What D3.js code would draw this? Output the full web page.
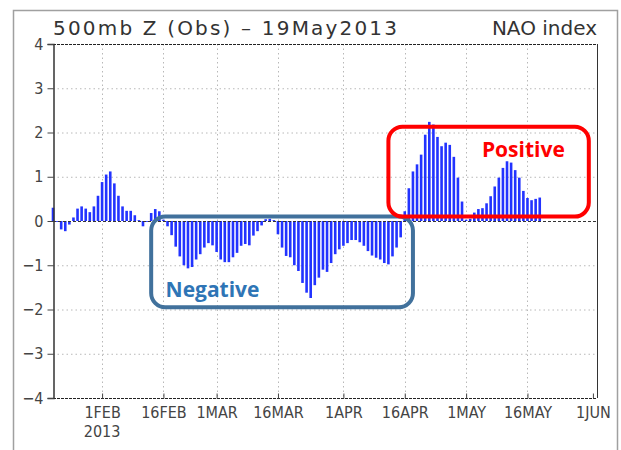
<!DOCTYPE html>
<html>
<head>
<meta charset="utf-8">
<script src="https://cdn.jsdelivr.net/npm/d3@7"></script>
<style>
  body { margin: 0; background: #fff; }
  svg { display: block; }
</style>
</head>
<body>
<div id="chart"></div>
<script>
// daily NAO index, 20 Jan 2013 .. 19 May 2013
var startDate = "2013-01-20";
var naoValues = [
  0.30, -0.02, -0.19, -0.23, -0.08, 0.08, 0.28, 0.33, 0.28, 0.20,
  0.33, 0.57, 0.88, 1.05, 1.12, 0.85, 0.57, 0.33, 0.23, 0.23,
  0.13, 0.02, -0.12, -0.02, 0.18, 0.27, 0.22, 0.03, -0.12, -0.32,
  -0.58, -0.80, -1.00, -1.07, -1.04, -0.87, -0.75, -0.60, -0.50, -0.55,
  -0.70, -0.87, -0.93, -0.93, -0.82, -0.72, -0.56, -0.52, -0.55, -0.33,
  -0.23, -0.10, 0.04, 0.05, 0.02, -0.30, -0.60, -0.79, -0.82, -1.00,
  -1.13, -1.40, -1.62, -1.74, -1.45, -1.28, -1.10, -1.15, -0.95, -0.75,
  -0.64, -0.56, -0.50, -0.43, -0.43, -0.48, -0.56, -0.68, -0.78, -0.83,
  -0.87, -0.95, -0.98, -0.80, -0.60, -0.37, 0.22, 0.74, 1.12, 1.28,
  1.50, 1.95, 2.24, 2.18, 1.90, 1.69, 1.77, 1.72, 1.45, 0.98,
  0.44, 0.03, 0.05, 0.19, 0.27, 0.29, 0.40, 0.56, 0.78, 0.98,
  1.20, 1.35, 1.32, 1.15, 0.98, 0.68, 0.52, 0.47, 0.50, 0.53
];
var tickDates = ["2013-02-01", "2013-02-16", "2013-03-01", "2013-03-16", "2013-04-01",
                 "2013-04-16", "2013-05-01", "2013-05-16", "2013-06-01"];
var tickLabels = ["1FEB", "16FEB", "1MAR", "16MAR", "1APR", "16APR", "1MAY", "16MAY", "1JUN"];
var yTicks = [-4, -3, -2, -1, 0, 1, 2, 3, 4];
var titleLeft = "500mb Z (Obs) \u2013 19May2013";
var titleRight = "NAO index";

var width = 621, height = 450;
var margin = {top: 44, right: 24, bottom: 52, left: 53};

var parse = d3.utcParse("%Y-%m-%d");
var day0 = parse(startDate);
var data = naoValues.map(function(v, i) {
    return {date: d3.utcDay.offset(day0, i), value: v};
});

var x = d3.scaleUtc()
    .domain([day0, d3.utcHour.offset(parse("2013-06-01"), 24)])
    .range([margin.left, width - margin.right]);
var y = d3.scaleLinear()
    .domain([-4, 4])
    .range([height - margin.bottom, margin.top]);

var svg = d3.select("#chart").append("svg")
    .attr("width", width)
    .attr("height", height);

// outer frame of the screenshot
svg.append("path")
    .attr("d", "M13.5,460 V10.5 H617.5 V460")
    .attr("fill", "none")
    .attr("stroke", "#a0a0a0")
    .attr("stroke-width", 1.5);

var font = "'DejaVu Sans Condensed', 'DejaVu Sans', sans-serif";

// grid
var grid = svg.append("g").attr("stroke", "#b8b8b8").attr("stroke-dasharray", "1.5,3");
grid.selectAll("line.h").data(yTicks.filter(function(d) { return d !== 0 && Math.abs(d) !== 4; }))
    .enter().append("line")
    .attr("x1", margin.left).attr("x2", width - margin.right)
    .attr("y1", function(d) { return y(d) + 0.5; }).attr("y2", function(d) { return y(d) + 0.5; });
grid.selectAll("line.v").data(tickDates.slice(0, -1))
    .enter().append("line")
    .attr("x1", function(d) { return Math.round(x(parse(d))) + 0.5; })
    .attr("x2", function(d) { return Math.round(x(parse(d))) + 0.5; })
    .attr("y1", margin.top).attr("y2", height - margin.bottom);

// bars
svg.append("g").selectAll("rect")
    .data(data).enter().append("rect")
    .attr("x", function(d) { return x(d.date) - 1.3; })
    .attr("width", 2.6)
    .attr("y", function(d) { return y(Math.max(0, d.value)); })
    .attr("height", function(d) { return Math.abs(y(d.value) - y(0)); })
    .attr("fill", "#2233ff");

// zero line
svg.append("line")
    .attr("x1", margin.left).attr("x2", width - margin.right)
    .attr("y1", y(0) + 0.5).attr("y2", y(0) + 0.5)
    .attr("stroke", "#333").attr("stroke-dasharray", "3,2");

// frame: solid sides, dashed top/bottom
svg.append("g").selectAll("line").data([4, -4]).enter().append("line")
    .attr("x1", margin.left).attr("x2", width - margin.right)
    .attr("y1", function(d) { return y(d) + 0.5; }).attr("y2", function(d) { return y(d) + 0.5; })
    .attr("stroke", "#222").attr("stroke-dasharray", "3,1");
svg.append("line")
    .attr("x1", width - margin.right + 0.5).attr("x2", width - margin.right + 0.5)
    .attr("y1", margin.top).attr("y2", height - margin.bottom)
    .attr("stroke", "#333");

// y axis
var yAxis = svg.append("g")
    .attr("transform", "translate(" + (margin.left + 0.5) + ",0)")
    .call(d3.axisLeft(y).tickValues(yTicks).tickSize(6).tickPadding(4)
        .tickFormat(function(d) { return d < 0 ? "\u2212" + Math.abs(d) : d; }));
yAxis.select(".domain").attr("stroke", "#333").attr("stroke-width", 1.5);
yAxis.selectAll(".tick line").attr("stroke", "#444");
yAxis.selectAll("text").attr("font-family", font).attr("font-size", 16).attr("fill", "#444");

// x axis
var xAxis = svg.append("g")
    .attr("transform", "translate(0," + (height - margin.bottom + 0.5) + ")")
    .call(d3.axisBottom(x).tickValues(tickDates.map(parse)).tickSize(-5).tickPadding(8)
        .tickFormat(function(d, i) { return tickLabels[i]; }));
xAxis.select(".domain").remove();
xAxis.selectAll(".tick line").attr("stroke", "#444");
xAxis.selectAll("text").attr("font-family", font).attr("font-size", 16).attr("fill", "#444");
xAxis.append("text")
    .attr("x", x(parse(tickDates[0])))
    .attr("y", 38)
    .attr("text-anchor", "middle")
    .attr("font-family", font).attr("font-size", 16).attr("fill", "#444")
    .text("2013");

// titles
svg.append("text")
    .attr("x", margin.left).attr("y", 35)
    .attr("font-family", "'DejaVu Sans', sans-serif").attr("font-size", 20).attr("fill", "#333")
    .attr("textLength", 344).attr("lengthAdjust", "spacing")
    .text(titleLeft);
svg.append("text")
    .attr("x", width - margin.right).attr("y", 35)
    .attr("text-anchor", "end")
    .attr("font-family", "'DejaVu Sans', sans-serif").attr("font-size", 20).attr("fill", "#333")
    .text(titleRight);

// annotation boxes
var boxes = [
    {label: "Negative", x0: "2013-02-13", x1: "2013-04-18", top: 0.1, bottom: -1.95,
     stroke: "#41719c", color: "#2e75b6", tx: "2013-02-28", ty: -1.72},
    {label: "Positive", x0: "2013-04-12", x1: "2013-05-31", top: 2.13, bottom: 0.1,
     stroke: "#ff0000", color: "#ff0000", tx: "2013-05-15", ty: 1.45}
];
boxes.forEach(function(b) {
    svg.append("rect")
        .attr("x", x(parse(b.x0)))
        .attr("y", y(b.top))
        .attr("width", x(parse(b.x1)) - x(parse(b.x0)))
        .attr("height", y(b.bottom) - y(b.top))
        .attr("rx", 14)
        .attr("fill", "none")
        .attr("stroke", b.stroke)
        .attr("stroke-width", 4);
    svg.append("text")
        .attr("x", x(parse(b.tx)))
        .attr("y", y(b.ty))
        .attr("text-anchor", "middle")
        .attr("font-family", "'Open Sans', 'Liberation Sans', sans-serif")
        .attr("font-weight", "bold")
        .attr("font-size", 21)
        .attr("fill", b.color)
        .text(b.label);
});
</script>
</body>
</html>
